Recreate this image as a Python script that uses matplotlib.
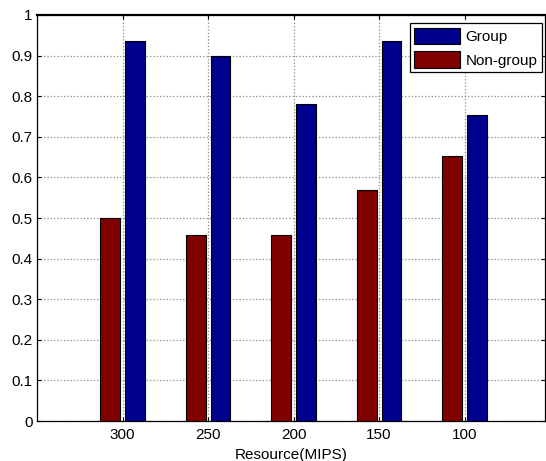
import numpy as np
import matplotlib
matplotlib.use('Agg')
import matplotlib.pyplot as plt

#### Data ####
resource = ['300', '250', '200', '150', '100']
group = [0.937, 0.898, 0.782, 0.935, 0.753]
non_group = [0.500, 0.457, 0.457, 0.568, 0.653]

#### Style ####
BLUE = '#00008F'
RED = '#800000'
plt.rcParams['font.family'] = ['Liberation Sans', 'DejaVu Sans']

W, H = 546, 461
fig = plt.figure(figsize=(W / 100, H / 100), dpi=100)
# axes box in pixels: left 37, right 545, top 15, bottom 421
ax = fig.add_axes([37 / W, 1 - 421 / H, (545 - 37) / W, (421 - 15) / H])

x = np.arange(1, len(resource) + 1)
off = 0.145
width = 0.232
ax.bar(x - off, non_group, width, color=RED, edgecolor='black', lw=0.8,
       label='Non-group', zorder=3)
ax.bar(x + off, group, width, color=BLUE, edgecolor='black', lw=0.8,
       label='Group', zorder=3)

ax.set_xlim(0, 5.94)
ax.set_ylim(0, 1)
ax.set_xticks(x)
ax.set_xticklabels(resource)
ax.set_yticks(np.arange(0, 1.01, 0.1))
ax.set_yticklabels(['0'] + ['%.1f' % v for v in np.arange(0.1, 0.95, 0.1)] + ['1'])
ax.tick_params(direction='in', top=True, right=True, labelsize=11, length=3)
ax.tick_params(axis='x', pad=5)
ax.tick_params(axis='y', pad=3)
ax.grid(True, color='#8a8a8a', linestyle=':', lw=0.9, zorder=0)
for s in ax.spines.values():
    s.set_linewidth(0.9)
ax.spines['top'].set_linewidth(1.6)

ax.set_xlabel('Resource(MIPS)', fontsize=11)
ax.xaxis.set_label_coords(0.5, -(448 - 421) / (421 - 15))
ax.xaxis.label.set_va('top')

handles, labels = ax.get_legend_handles_labels()
leg = ax.legend(handles[::-1], labels[::-1], loc='upper right', fontsize=11,
                bbox_to_anchor=(542 / W, 1 - 23 / H),
                bbox_transform=fig.transFigure, borderaxespad=0,
                fancybox=False, framealpha=1, edgecolor='black',
                handlelength=3.0, handleheight=1.25,
                handletextpad=0.35, borderpad=0.3, labelspacing=0.5)
leg.get_frame().set_linewidth(0.9)

fig.savefig('out.png', dpi=100)
